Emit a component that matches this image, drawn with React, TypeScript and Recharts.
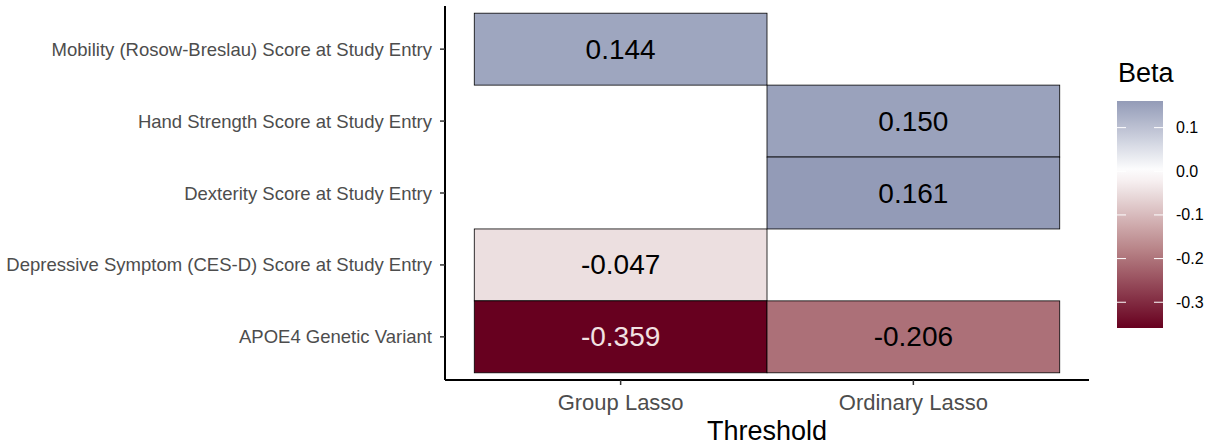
import { Scatter, ScatterChart, XAxis, YAxis } from "recharts";

// Heatmap of lasso coefficients: one tile per (method, predictor) that was selected.
const methods = ["Group Lasso", "Ordinary Lasso"];
const predictors = [
  "Mobility (Rosow-Breslau) Score at Study Entry",
  "Hand Strength Score at Study Entry",
  "Dexterity Score at Study Entry",
  "Depressive Symptom (CES-D) Score at Study Entry",
  "APOE4 Genetic Variant",
];
const groupLassoBeta = [0.144, null, null, -0.047, -0.359];
const ordinaryLassoBeta = [null, 0.15, 0.161, null, -0.206];
const legendTicks = [0.1, 0.0, -0.1, -0.2, -0.3];

const FONT = "'Liberation Sans', Arial, Helvetica, sans-serif";
const W = 1212;
const H = 446;
const MARGIN = { top: 6, right: 123, bottom: 0, left: 0 };
const Y_AXIS_W = 445;
const X_AXIS_H = 66;
const X_DOMAIN: [number, number] = [0.4, 2.6];
const Y_DOMAIN: [number, number] = [0.4, 5.6];
const PLOT_W = W - MARGIN.left - MARGIN.right - Y_AXIS_W;
const PLOT_H = H - MARGIN.top - MARGIN.bottom - X_AXIS_H;
const CELL_W = PLOT_W / (X_DOMAIN[1] - X_DOMAIN[0]);
const CELL_H = PLOT_H / (Y_DOMAIN[1] - Y_DOMAIN[0]);

const BETA_MIN = -0.359;
const BETA_MAX = 0.161;

type RGB = [number, number, number];
const hex = (h: string): RGB => [1, 3, 5].map((i) => parseInt(h.slice(i, i + 2), 16)) as RGB;
const NEG_STOPS: [number, RGB][] = [
  [0, hex("#ffffff")],
  [0.5, hex("#b88387")],
  [1, hex("#67001f")],
];
const POS_STOPS: [number, RGB][] = [
  [0, hex("#ffffff")],
  [1, hex("#939bb7")],
];

function mix(stops: [number, RGB][], t: number) {
  t = Math.max(0, Math.min(1, t));
  for (let i = 1; i < stops.length; i++) {
    const [t0, c0] = stops[i - 1];
    const [t1, c1] = stops[i];
    if (t <= t1) {
      const f = (t - t0) / (t1 - t0);
      const c = c0.map((v, k) => Math.round(v + (c1[k] - v) * f));
      return `rgb(${c[0]},${c[1]},${c[2]})`;
    }
  }
  const c = stops[stops.length - 1][1];
  return `rgb(${c[0]},${c[1]},${c[2]})`;
}

function betaColor(v: number) {
  return v < 0 ? mix(NEG_STOPS, v / BETA_MIN) : mix(POS_STOPS, v / BETA_MAX);
}

const tiles = [groupLassoBeta, ordinaryLassoBeta].flatMap((col, mi) =>
  col.flatMap((beta, pi) => (beta === null ? [] : [{ x: mi + 1, y: pi + 1, beta }]))
);

function Tile(props: any) {
  const { cx, cy, payload } = props;
  const beta: number = payload.beta;
  return (
    <g>
      <rect
        x={cx - CELL_W / 2}
        y={cy - CELL_H / 2}
        width={CELL_W}
        height={CELL_H}
        fill={betaColor(beta)}
        stroke="#000"
        strokeWidth={0.8}
      />
      <text
        x={cx}
        y={cy}
        textAnchor="middle"
        dominantBaseline="central"
        fontSize={28}
        fontFamily={FONT}
        fill={beta < -0.3 ? "#f2e2e2" : "#000"}
      >
        {beta.toFixed(3)}
      </text>
    </g>
  );
}

function ColorBar() {
  const top = 101;
  const bottom = 328;
  const pxPerUnit = (bottom - top) / (BETA_MAX - BETA_MIN);
  const yOf = (v: number) => top + (BETA_MAX - v) * pxPerUnit;
  const stops = Array.from({ length: 21 }, (_, i) => BETA_MAX - ((BETA_MAX - BETA_MIN) * i) / 20);
  return (
    <svg width={W} height={H} style={{ position: "absolute", left: 0, top: 0, pointerEvents: "none" }}>
      <defs>
        <linearGradient id="betaGrad" x1="0" y1="0" x2="0" y2="1">
          {stops.map((v, i) => (
            <stop key={i} offset={i / 20} stopColor={betaColor(v)} />
          ))}
        </linearGradient>
      </defs>
      <text x={1118} y={82} fontSize={27} fontFamily={FONT} fill="#000">
        Beta
      </text>
      <rect x={1117} y={top} width={46} height={bottom - top} fill="url(#betaGrad)" />
      {legendTicks.map((v) => (
        <g key={v}>
          <line x1={1117} x2={1126} y1={yOf(v)} y2={yOf(v)} stroke="#fff" strokeWidth={1} />
          <line x1={1154} x2={1163} y1={yOf(v)} y2={yOf(v)} stroke="#fff" strokeWidth={1} />
          <text x={1176} y={yOf(v)} dominantBaseline="central" fontSize={16} fontFamily={FONT} fill="#000">
            {v.toFixed(1)}
          </text>
        </g>
      ))}
    </svg>
  );
}

export default function App() {
  return (
    <div style={{ position: "absolute", left: 0, top: 0, width: W, height: H, background: "#fff" }}>
      <ScatterChart width={W} height={H} margin={MARGIN}>
        <XAxis
          type="number"
          dataKey="x"
          domain={X_DOMAIN}
          ticks={[1, 2]}
          tickFormatter={(v: number) => methods[v - 1]}
          height={X_AXIS_H}
          axisLine={{ stroke: "#000", strokeWidth: 2 }}
          tickLine={{ stroke: "#333", strokeWidth: 1.5 }}
          tickSize={5}
          tickMargin={9}
          tick={{ fill: "#4d4d4d", fontSize: 22, fontFamily: FONT }}
          label={{ value: "Threshold", position: "insideBottom", offset: 6, fill: "#000", fontSize: 27, fontFamily: FONT }}
        />
        <YAxis
          type="number"
          dataKey="y"
          reversed
          domain={Y_DOMAIN}
          ticks={[1, 2, 3, 4, 5]}
          tickFormatter={(v: number) => predictors[v - 1]}
          width={Y_AXIS_W}
          axisLine={{ stroke: "#000", strokeWidth: 2 }}
          tickLine={{ stroke: "#333", strokeWidth: 1.5 }}
          tickSize={5}
          tickMargin={8}
          tick={{ fill: "#4d4d4d", fontSize: 18.5, fontFamily: FONT }}
        />
        <Scatter data={tiles} shape={(p: any) => <Tile {...p} />} isAnimationActive={false} />
      </ScatterChart>
      <ColorBar />
    </div>
  );
}
